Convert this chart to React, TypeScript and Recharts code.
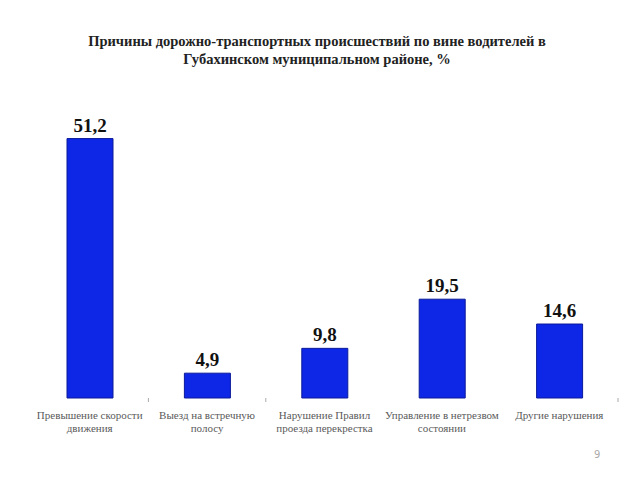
import React from 'react';
import { BarChart, Bar, XAxis, YAxis, LabelList } from 'recharts';

const categories = [
  'Превышение скорости\nдвижения',
  'Выезд на встречную\nполосу',
  'Нарушение Правил\nпроезда перекрестка',
  'Управление в нетрезвом\nсостоянии',
  'Другие нарушения',
];
const values = [51.2, 4.9, 9.8, 19.5, 14.6];
const boundaryTicks = [1, 2, 5];

const data = categories.map((c, i) => ({ name: c, value: values[i], pos: i + 0.5 }));

const fmt = (v: number) => v.toFixed(1).replace('.', ',');
const SERIF = '"Liberation Serif", "Times New Roman", serif';

const CatTick = (props: any) => {
  const { x, y, payload } = props;
  const lines = String(payload.value).split('\n');
  return (
    <g transform={`translate(${x},${y})`}>
      {lines.map((l, i) => (
        <text
          key={i}
          x={0}
          y={9 + i * 13}
          textAnchor="middle"
          fontFamily={SERIF}
          fontSize={11}
          fill="#5a5a5a"
        >
          {l}
        </text>
      ))}
    </g>
  );
};

const NoTick = () => <g />;

export default function App() {
  return (
    <div style={{ position: 'absolute', left: 0, top: 0, width: 640, height: 480, background: '#fff' }}>
      <div
        style={{
          position: 'absolute',
          left: 0,
          top: 32,
          width: 634,
          textAlign: 'center',
          fontFamily: SERIF,
          fontWeight: 'bold',
          fontSize: 14.5,
          lineHeight: '18px',
          color: '#222',
        }}
      >
        Причины дорожно-транспортных происшествий по вине водителей в
        <br />
        Губахинском муниципальном районе, %
      </div>
      <BarChart
        width={640}
        height={480}
        data={data}
        margin={{ top: 94, right: 22, left: 31, bottom: 42 }}
        barSize={46}
      >
        <XAxis
          dataKey="name"
          xAxisId="b"
          axisLine={false}
          tickLine={false}
          tick={<CatTick />}
          interval={0}
          height={36}
        />
        <XAxis
          dataKey="pos"
          xAxisId="a"
          type="number"
          domain={[0, 5]}
          ticks={boundaryTicks}
          interval={0}
          axisLine={false}
          tick={<NoTick />}
          tickLine={{ stroke: '#aaa', strokeWidth: 1 }}
          tickSize={4}
          height={4}
        />
        <YAxis hide domain={[0, 60]} />
        <Bar dataKey="value" xAxisId="b" fill="#0E26E6" stroke="#0A1A9A" strokeWidth={1} isAnimationActive={false}>
          <LabelList
            dataKey="value"
            position="top"
            offset={7}
            formatter={(v: any) => fmt(Number(v))}
            style={{ fontFamily: SERIF, fontWeight: 'bold', fontSize: 19, fill: '#111' }}
          />
        </Bar>
      </BarChart>
      <div
        style={{
          position: 'absolute',
          left: 594,
          top: 449,
          fontFamily: "'DejaVu Sans', sans-serif",
          fontSize: 10,
          color: '#aaa',
        }}
      >
        9
      </div>
    </div>
  );
}
